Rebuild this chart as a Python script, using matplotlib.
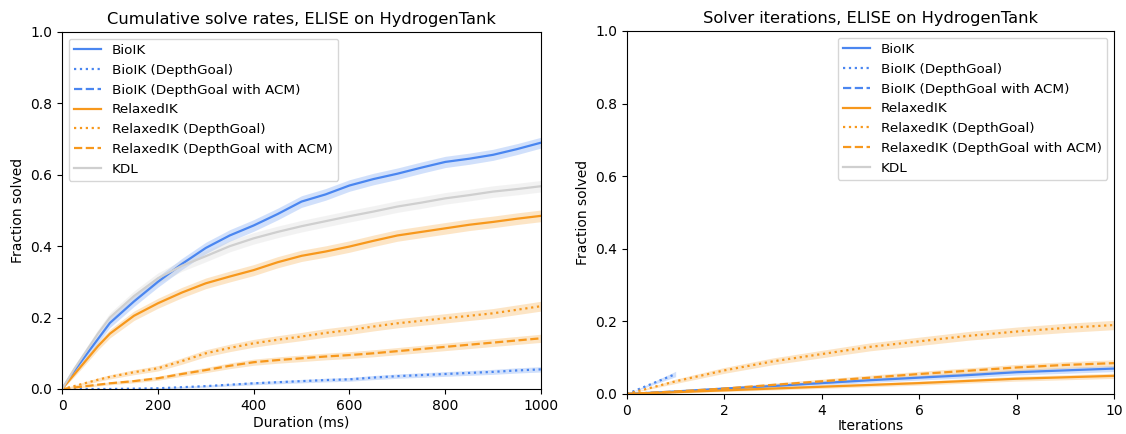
import numpy as np
import matplotlib
matplotlib.use("Agg")
import matplotlib.pyplot as plt

# left panel: fraction solved vs duration (ms)
duration = [0, 25, 50, 75, 100, 150, 200, 250, 300, 350, 400, 450, 500,
            550, 600, 650, 700, 750, 800, 850, 900, 950, 1000]
bioik = [0, 0.05, 0.095, 0.14, 0.185, 0.245, 0.30, 0.35, 0.395, 0.43, 0.458, 0.49, 0.525,
         0.545, 0.57, 0.588, 0.603, 0.62, 0.636, 0.645, 0.656, 0.672, 0.69]
bioik_dg = [0, 0, 0, 0, 0, 0.001, 0.002, 0.005, 0.008, 0.012, 0.016, 0.019, 0.022,
            0.025, 0.027, 0.032, 0.036, 0.039, 0.042, 0.045, 0.048, 0.052, 0.055]
bioik_acm_x = []  # nothing solved in this run
bioik_acm = []
relaxed = [0, 0.04, 0.08, 0.12, 0.155, 0.205, 0.24, 0.27, 0.296, 0.315, 0.333, 0.355, 0.373,
           0.385, 0.399, 0.415, 0.43, 0.44, 0.45, 0.46, 0.468, 0.477, 0.485]
relaxed_dg = [0, 0.008, 0.017, 0.026, 0.034, 0.047, 0.058, 0.078, 0.10, 0.115, 0.128, 0.138, 0.147,
              0.157, 0.165, 0.175, 0.184, 0.191, 0.198, 0.205, 0.212, 0.222, 0.232]
relaxed_acm = [0, 0.004, 0.008, 0.012, 0.016, 0.022, 0.03, 0.042, 0.053, 0.065, 0.075, 0.081, 0.086,
               0.091, 0.095, 0.10, 0.106, 0.112, 0.118, 0.124, 0.13, 0.136, 0.142]
kdl = [0, 0.055, 0.105, 0.155, 0.20, 0.26, 0.31, 0.345, 0.372, 0.40, 0.422, 0.44, 0.456,
       0.47, 0.484, 0.497, 0.511, 0.522, 0.534, 0.543, 0.553, 0.56, 0.568]

# right panel: fraction solved vs iterations
iters = [0, 1, 2, 3, 4, 5, 6, 7, 8, 9, 10]
it_bioik = [0, 0.007, 0.015, 0.022, 0.03, 0.038, 0.045, 0.052, 0.06, 0.065, 0.07]
it_bioik_dg_x = [0, 1]
it_bioik_dg = [0, 0.055]
it_bioik_acm_x = [0, 1]
it_bioik_acm = [0, 0.006]
it_relaxed = [0, 0.005, 0.01, 0.015, 0.02, 0.025, 0.03, 0.036, 0.042, 0.046, 0.05]
it_relaxed_dg = [0, 0.035, 0.065, 0.09, 0.11, 0.13, 0.145, 0.16, 0.172, 0.182, 0.19]
it_relaxed_acm = [0, 0.007, 0.015, 0.025, 0.035, 0.045, 0.055, 0.064, 0.073, 0.08, 0.085]

n_samples = 3600  # for binomial confidence band

blue = '#4a86f0'
orange = '#f7981c'
grey = '#cfcfcf'

labels = ['BioIK', 'BioIK (DepthGoal)', 'BioIK (DepthGoal with ACM)', 'RelaxedIK',
          'RelaxedIK (DepthGoal)', 'RelaxedIK (DepthGoal with ACM)', 'KDL']
colors = [blue, blue, blue, orange, orange, orange, grey]
styles = ['-', ':', '--', '-', ':', '--', '-']


def draw(ax, xs, ys):
    for x, y, lab, c, ls in zip(xs, ys, labels, colors, styles):
        x = np.array(x, dtype=float)
        y = np.array(y, dtype=float)
        band = 1.96 * np.sqrt(y * (1 - y) / n_samples)
        if len(x):
            ax.fill_between(x, y - band, y + band, color=c, alpha=0.25, lw=0)
        ax.plot(x, y, ls=ls, color=c, lw=1.6, label=lab)


fig = plt.figure(figsize=(11.26, 4.34), dpi=100)
ax1 = fig.add_axes([0.0551, 0.1037, 0.4254, 0.8226])
ax2 = fig.add_axes([0.5568, 0.0922, 0.4325, 0.8364])

draw(ax1, [duration, duration, bioik_acm_x, duration, duration, duration, duration],
     [bioik, bioik_dg, bioik_acm, relaxed, relaxed_dg, relaxed_acm, kdl])
ax1.set_xlim(0, 1000)
ax1.set_ylim(0, 1)
ax1.set_title('Cumulative solve rates, ELISE on HydrogenTank', fontsize=11.7)
ax1.set_xlabel('Duration (ms)', labelpad=2)
ax1.set_ylabel('Fraction solved')
ax1.legend(loc='upper left', fontsize=9.7)

draw(ax2, [iters, it_bioik_dg_x, it_bioik_acm_x, iters, iters, iters, []],
     [it_bioik, it_bioik_dg, it_bioik_acm, it_relaxed, it_relaxed_dg, it_relaxed_acm, []])
ax2.set_xlim(0, 10)
ax2.set_ylim(0, 1)
ax2.set_title('Solver iterations, ELISE on HydrogenTank', fontsize=11.7)
ax2.set_xlabel('Iterations', labelpad=1)
ax2.set_ylabel('Fraction solved')
ax2.legend(loc='upper right', fontsize=9.7)

fig.savefig('out.png', dpi=100)
